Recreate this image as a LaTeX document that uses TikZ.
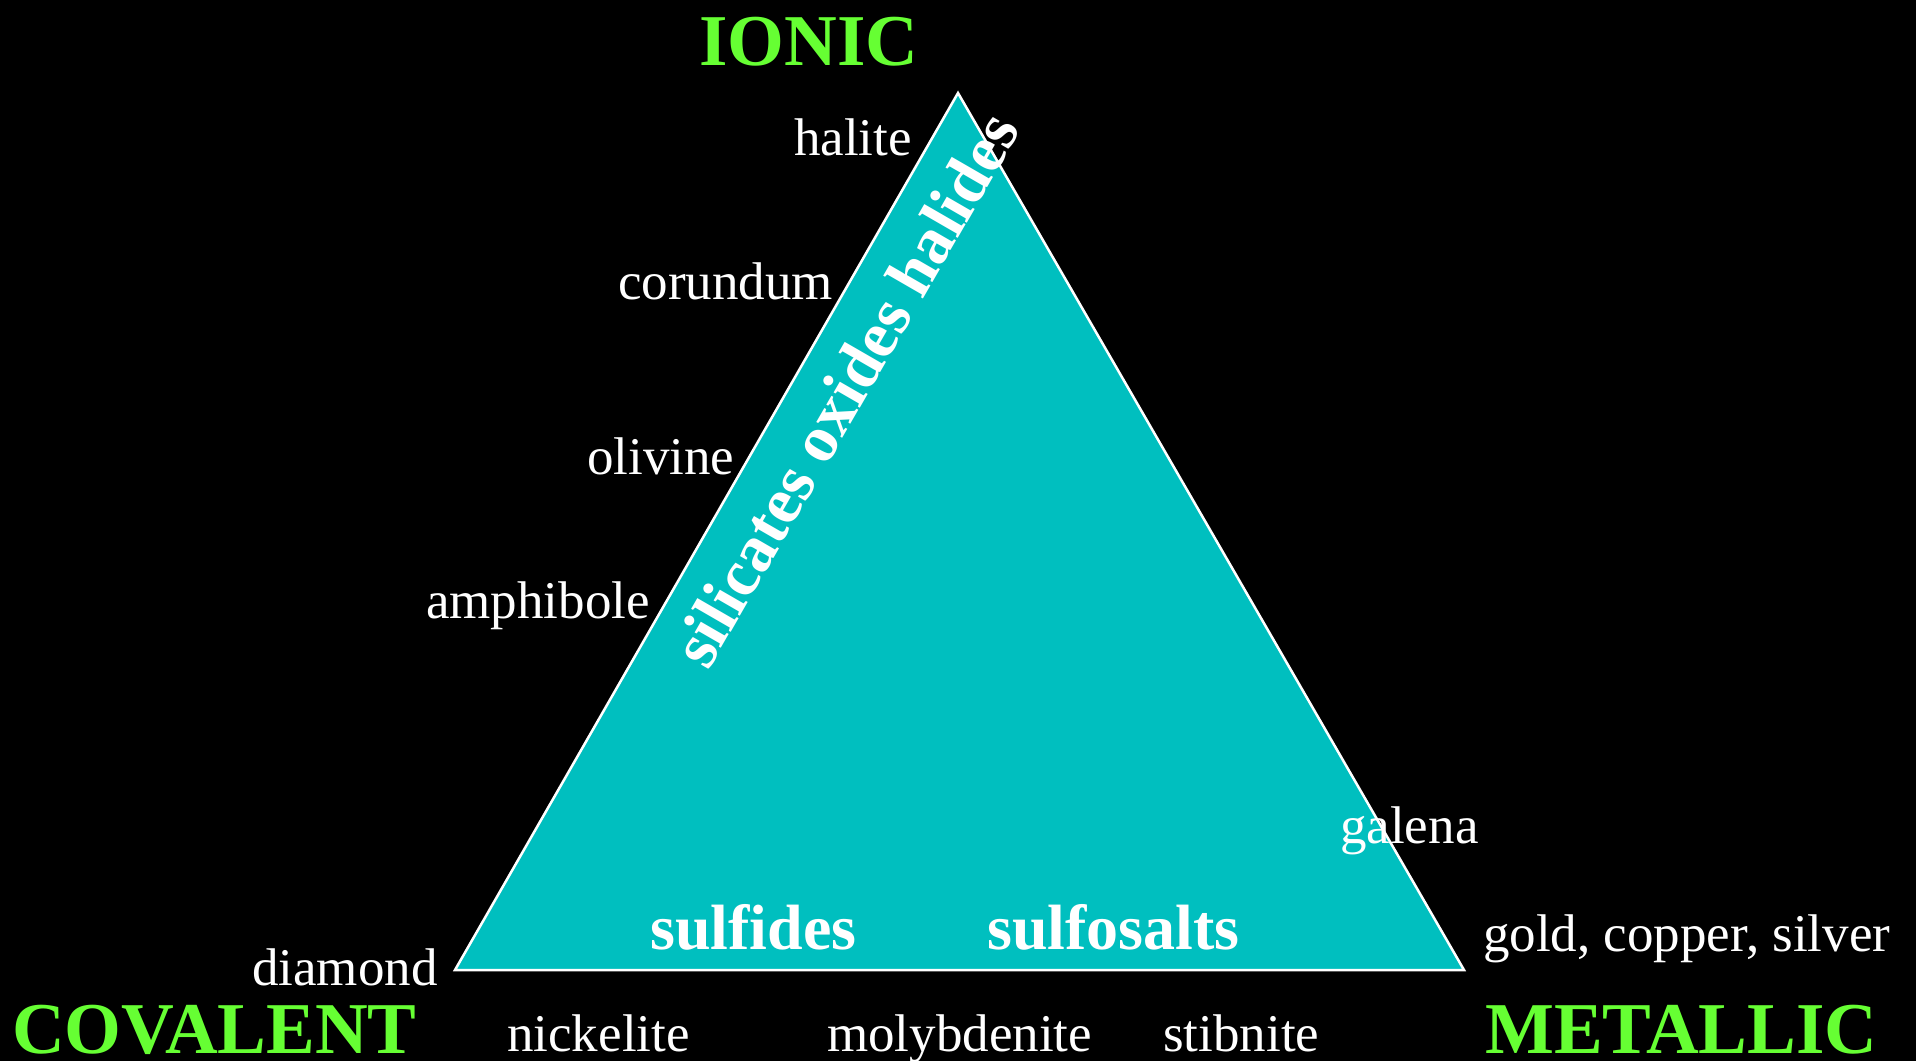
\documentclass[tikz,border=0pt]{standalone}
\usepackage{fontspec}
\setmainfont{Liberation Serif}
\definecolor{teal1}{RGB}{0,191,191}
\definecolor{lime1}{RGB}{102,255,51}
\tikzset{
  lbl/.style={text=white, inner sep=0pt, anchor=base west, font=\fontsize{53}{53}\selectfont},
  fam/.style={text=white, inner sep=0pt, anchor=base west, font=\fontsize{64}{64}\selectfont\bfseries},
  bond/.style={text=lime1, inner sep=0pt, anchor=base west, font=\fontsize{73}{73}\selectfont\bfseries},
  tri/.style={fill=teal1, draw=white, line width=2.5pt, line join=miter}
}
\begin{document}
\begin{tikzpicture}[x=1pt,y=-1pt]
\fill[black] (0,0) rectangle (1916,1061);
\useasboundingbox (0,0) rectangle (1916,1061);
\coordinate (top) at (958,93);
\coordinate (bl) at (455,970);
\coordinate (br) at (1464,970);
\filldraw[tri] (top) -- (bl) -- (br) -- cycle;

\node[bond] (ionic) at (699,65) {IONIC};
\node[bond] (covalent) at (12,1053) {COVALENT};
\node[bond] (metallic) at (1485,1053) {METALLIC};

\node[lbl] (halite) at (794,155) {halite};
\node[lbl] (corundum) at (618,299) {corundum};
\node[lbl] (olivine) at (587,474) {olivine};
\node[lbl] (amphibole) at (426,618) {amphibole};
\node[lbl] (galena) at (1340,843) {galena};
\node[lbl] (gold) at (1483,951) {gold, copper, silver};
\node[lbl] (diamond) at (252,985) {diamond};
\node[lbl] (nickelite) at (507,1051) {nickelite};
\node[lbl] (molybdenite) at (827,1051) {molybdenite};
\node[lbl] (stibnite) at (1163,1051) {stibnite};

\node[fam] (sulfides) at (650,949) {sulfides};
\node[fam] (sulfosalts) at (987,949) {sulfosalts};
\node[fam, rotate=60, font=\fontsize{66}{66}\selectfont\bfseries] (silicates) at (708,672) {silicates oxides halides};
\end{tikzpicture}
\end{document}
